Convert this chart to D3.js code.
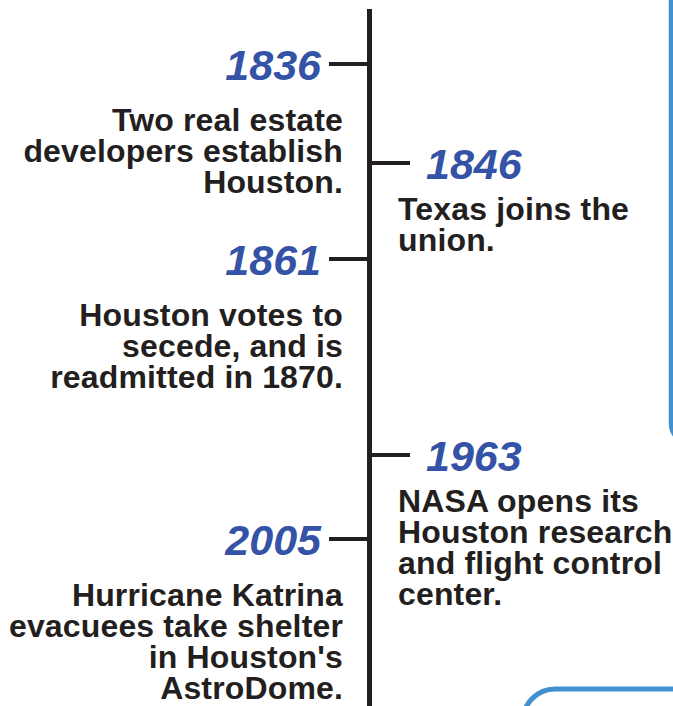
<!DOCTYPE html>
<html>
<head>
<meta charset="utf-8">
<script src="https://cdn.jsdelivr.net/npm/d3@7"></script>
<style>
  html, body { margin: 0; padding: 0; background: #fff; overflow: hidden; }
  .year { font-family: "Liberation Sans", Arial, sans-serif; font-weight: bold; font-style: italic; fill: #3452a6; }
  .desc { font-family: "Liberation Sans", Arial, sans-serif; font-weight: bold; fill: #231f20; letter-spacing: 0.15px; }
</style>
</head>
<body>
<div id="chart"></div>
<script>
// timeline data
const years = [1836, 1846, 1861, 1963, 2005];
const sides = ["left", "right", "left", "right", "left"];
const descriptions = [
  ["Two real estate", "developers establish", "Houston."],
  ["Texas joins the", "union."],
  ["Houston votes to", "secede, and is", "readmitted in 1870."],
  ["NASA opens its", "Houston research", "and flight control", "center."],
  ["Hurricane Katrina", "evacuees take shelter", "in Houston's", "AstroDome."]
];

const width = 673, height = 706;
const axisX = 369.5;
const yearSize = 43, descSize = 32, lineH = 31;

// piecewise scale, the timeline is not proportional to time
const y = d3.scaleLinear()
  .domain(years)
  .range([64, 163, 259, 455, 539]);

const svg = d3.select("#chart")
  .append("svg")
  .attr("width", width)
  .attr("height", height);

// decorative boxes at the right edge
svg.append("rect")
  .attr("x", 671).attr("y", -40)
  .attr("width", 120).attr("height", 482)
  .attr("rx", 18)
  .style("fill", "none")
  .style("stroke", "#4190cf")
  .style("stroke-width", 4.5);

svg.append("rect")
  .attr("x", 523).attr("y", 689)
  .attr("width", 250).attr("height", 120)
  .attr("rx", 32)
  .style("fill", "none")
  .style("stroke", "#4190cf")
  .style("stroke-width", 5);

// main vertical line
svg.append("line")
  .attr("x1", axisX).attr("x2", axisX)
  .attr("y1", 9).attr("y2", height + 5)
  .style("stroke", "#231f20")
  .style("stroke-width", 5);

const ev = svg.selectAll(".event")
  .data(years.map((yr, i) => ({ year: yr, side: sides[i], lines: descriptions[i] })))
  .enter()
  .append("g")
  .attr("class", "event")
  .attr("transform", d => `translate(0,${y(d.year)})`);

ev.append("line")
  .attr("x1", d => d.side === "left" ? 329 : axisX)
  .attr("x2", d => d.side === "left" ? axisX : 410)
  .attr("y1", 0).attr("y2", 0)
  .style("stroke", "#231f20")
  .style("stroke-width", 4);

ev.append("text")
  .attr("class", "year")
  .attr("x", d => d.side === "left" ? 321 : 426)
  .attr("y", 16)
  .attr("text-anchor", d => d.side === "left" ? "end" : "start")
  .style("font-size", yearSize + "px")
  .text(d => d.year);

ev.append("text")
  .attr("class", "desc")
  .attr("text-anchor", d => d.side === "left" ? "end" : "start")
  .style("font-size", descSize + "px")
  .selectAll("tspan")
  .data(d => d.lines.map(l => ({ l, side: d.side })))
  .enter()
  .append("tspan")
  .attr("x", d => d.side === "left" ? 343 : 398)
  .attr("y", (d, i) => (d.side === "left" ? 67 : 57) + i * lineH)
  .text(d => d.l);
</script>
</body>
</html>
